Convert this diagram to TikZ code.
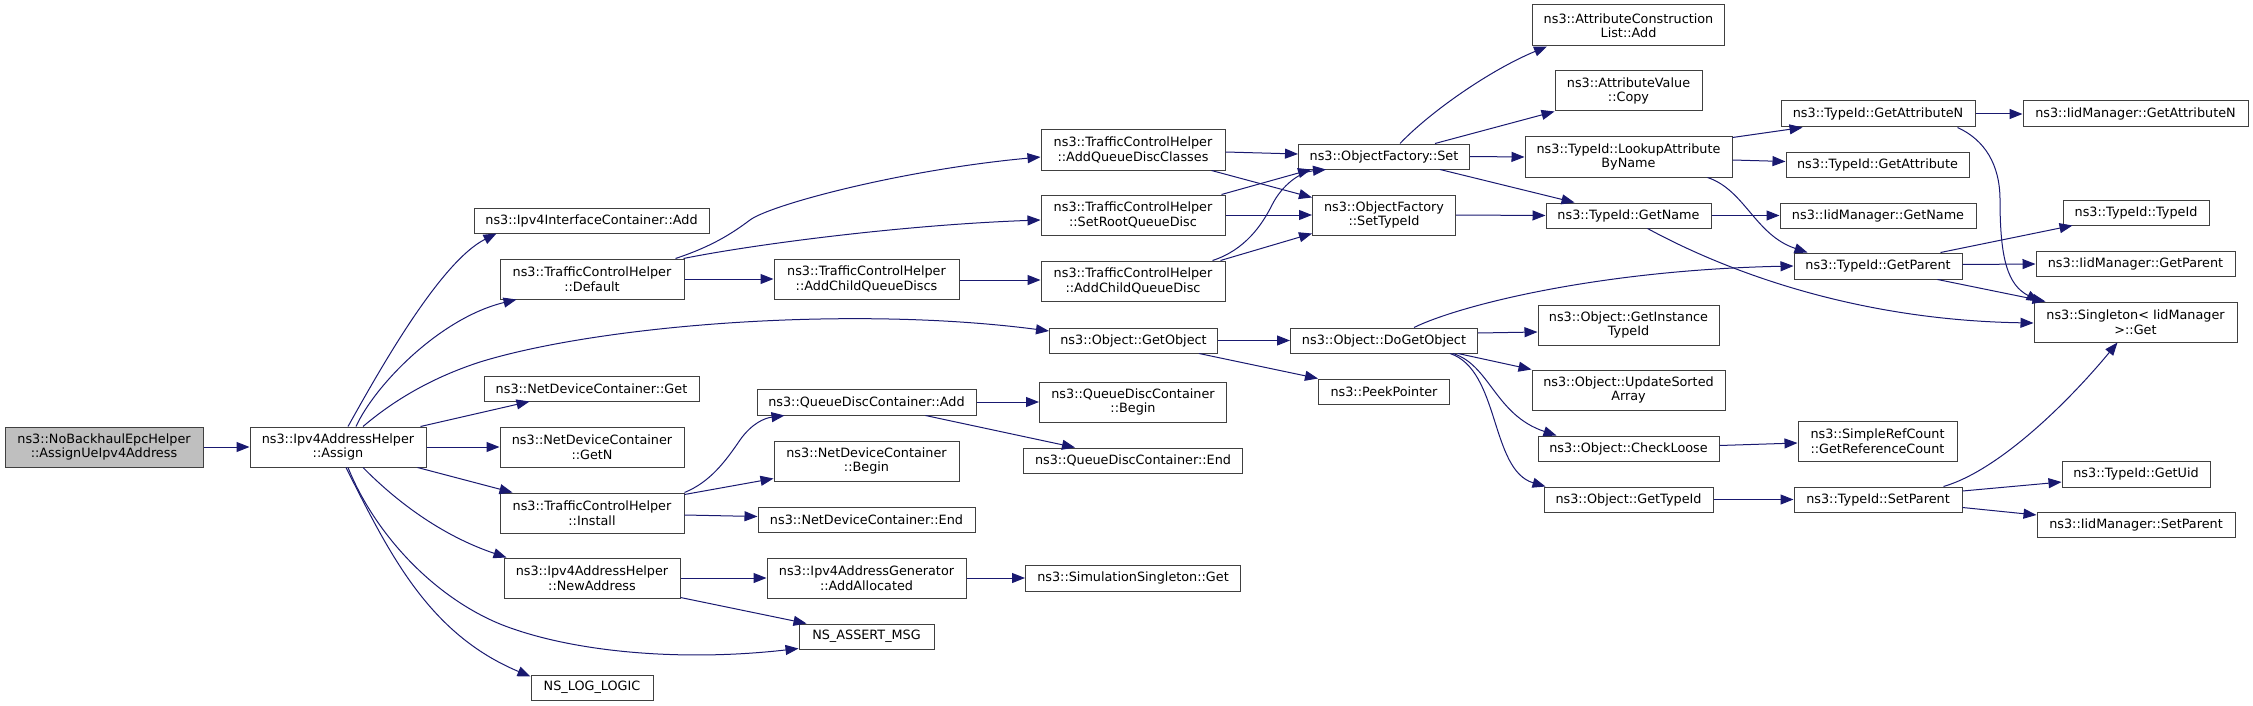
\documentclass[tikz,border=0pt]{standalone}
\usepackage{fontspec}
\setmainfont{DejaVu Sans}
\usetikzlibrary{arrows.meta}
\definecolor{edgec}{RGB}{25,25,112}
\definecolor{bordc}{RGB}{64,64,64}
\definecolor{rootc}{RGB}{191,191,191}
\begin{document}
\begin{tikzpicture}[x=1pt,y=-1pt,
  box/.style={draw=bordc, line width=1pt, fill=white, inner sep=0pt, align=center, font=\fontsize{12.8pt}{14.5pt}\selectfont},
  one/.style={box, minimum height=25pt},
  two/.style={box, minimum height=40pt},
  edge/.style={draw=edgec, line width=1pt, -{Triangle[length=13pt,width=10pt]}}]
\useasboundingbox (0,0) rectangle (2253,706);
% column 1-2
\node[two, minimum width=198pt, fill=rootc] (root) at (104,447) {ns3::NoBackhaulEpcHelper\\::AssignUeIpv4Address};
\node[two, minimum width=176pt] (assign) at (338,447) {ns3::Ipv4AddressHelper\\::Assign};
% column 3
\node[one, minimum width=235pt] (ipv4ica) at (591.5,220.5) {ns3::Ipv4InterfaceContainer::Add};
\node[two, minimum width=184pt] (default) at (592,279) {ns3::TrafficControlHelper\\::Default};
\node[one, minimum width=215pt] (ndcget) at (591.5,388.5) {ns3::NetDeviceContainer::Get};
\node[two, minimum width=184pt] (ndcgetn) at (592,447) {ns3::NetDeviceContainer\\::GetN};
\node[two, minimum width=184pt] (install) at (592,513) {ns3::TrafficControlHelper\\::Install};
\node[two, minimum width=176pt] (newaddr) at (592,578) {ns3::Ipv4AddressHelper\\::NewAddress};
\node[one, minimum width=122pt] (logic) at (592,687.5) {NS\_LOG\_LOGIC};
% column 4
\node[two, minimum width=185pt] (acqds) at (866.5,279) {ns3::TrafficControlHelper\\::AddChildQueueDiscs};
\node[box, minimum width=219pt, minimum height=26pt] (qdcadd) at (866.5,402) {ns3::QueueDiscContainer::Add};
\node[two, minimum width=185pt] (ndcbegin) at (866.5,461) {ns3::NetDeviceContainer\\::Begin};
\node[one, minimum width=217pt] (ndcend) at (866.5,519.5) {ns3::NetDeviceContainer::End};
\node[two, minimum width=199pt] (addalloc) at (866.5,578) {ns3::Ipv4AddressGenerator\\::AddAllocated};
\node[one, minimum width=135pt] (assert) at (866.5,636.5) {NS\_ASSERT\_MSG};
% column 5
\node[two, minimum width=184pt] (aqdc) at (1133,150) {ns3::TrafficControlHelper\\::AddQueueDiscClasses};
\node[two, minimum width=184pt] (srqd) at (1133,215) {ns3::TrafficControlHelper\\::SetRootQueueDisc};
\node[two, minimum width=184pt] (acqd) at (1133,281) {ns3::TrafficControlHelper\\::AddChildQueueDisc};
\node[one, minimum width=168pt] (getobj) at (1133.5,340.5) {ns3::Object::GetObject};
\node[two, minimum width=187pt] (qdcbegin) at (1133,402) {ns3::QueueDiscContainer\\::Begin};
\node[one, minimum width=219pt] (qdcend) at (1133,460.5) {ns3::QueueDiscContainer::End};
\node[box, minimum width=215pt, minimum height=26pt] (simsing) at (1133,578) {ns3::SimulationSingleton::Get};
% column 6
\node[one, minimum width=171pt] (ofset) at (1384,156.5) {ns3::ObjectFactory::Set};
\node[two, minimum width=143pt] (ofsettid) at (1384,215) {ns3::ObjectFactory\\::SetTypeId};
\node[one, minimum width=187pt] (dogetobj) at (1384,340.5) {ns3::Object::DoGetObject};
\node[one, minimum width=131pt] (peek) at (1384,391.5) {ns3::PeekPointer};
% column 7
\node[box, minimum width=192pt, minimum height=41pt] (acladd) at (1628.5,25.5) {ns3::AttributeConstruction\\List::Add};
\node[two, minimum width=147pt] (avcopy) at (1628.5,91) {ns3::AttributeValue\\::Copy};
\node[two, minimum width=207pt] (lookup) at (1628.5,157) {ns3::TypeId::LookupAttribute\\ByName};
\node[one, minimum width=165pt] (tgetname) at (1628.5,215.5) {ns3::TypeId::GetName};
\node[two, minimum width=181pt] (getinst) at (1628.5,325) {ns3::Object::GetInstance\\TypeId};
\node[two, minimum width=193pt] (updsorted) at (1628.5,390) {ns3::Object::UpdateSorted\\Array};
\node[one, minimum width=181pt] (checkloose) at (1628.5,448.5) {ns3::Object::CheckLoose};
\node[one, minimum width=169pt] (gettypeid) at (1628.5,499.5) {ns3::Object::GetTypeId};
% column 8
\node[box, minimum width=194pt, minimum height=26pt] (tgetattrn) at (1878,114) {ns3::TypeId::GetAttributeN};
\node[one, minimum width=183pt] (tgetattr) at (1877.5,164.5) {ns3::TypeId::GetAttribute};
\node[one, minimum width=196pt] (igetname) at (1878,215.5) {ns3::IidManager::GetName};
\node[box, minimum width=168pt, minimum height=26pt] (tgetparent) at (1878,266) {ns3::TypeId::GetParent};
\node[two, minimum width=159pt] (srcgrc) at (1877.5,441) {ns3::SimpleRefCount\\::GetReferenceCount};
\node[one, minimum width=168pt] (tsetparent) at (1878,499.5) {ns3::TypeId::SetParent};
% column 9
\node[box, minimum width=225pt, minimum height=26pt] (igetattrn) at (2135.5,114) {ns3::IidManager::GetAttributeN};
\node[one, minimum width=146pt] (ttypeid) at (2136,212.5) {ns3::TypeId::TypeId};
\node[one, minimum width=199pt] (igetparent) at (2135.5,263.5) {ns3::IidManager::GetParent};
\node[two, minimum width=203pt] (singleton) at (2135.5,322) {ns3::Singleton< IidManager\\ >::Get};
\node[box, minimum width=148pt, minimum height=26pt] (tgetuid) at (2136,474) {ns3::TypeId::GetUid};
\node[one, minimum width=198pt] (isetparent) at (2136,524.5) {ns3::IidManager::SetParent};
% edges
\draw[edge] (root.east) -- (assign.west);
\draw[edge] ([xshift=10pt]assign.north) .. controls (379,371) and (440,262) .. ([xshift=23pt]ipv4ica.south west);
\draw[edge] ([xshift=18pt]assign.north) .. controls (375,385) and (440,318) .. ([xshift=17pt]default.south west);
\draw[edge] ([xshift=25pt]assign.north) .. controls (400,395) and (440,375) .. (480,362) .. controls (600,325) and (850,305) .. ([yshift=9.5pt]getobj.west);
\draw[edge] ([xshift=-6pt]assign.north east) -- ([xshift=46pt]ndcget.south west);
\draw[edge] (assign.east) -- (ndcgetn.west);
\draw[edge] ([xshift=-9pt]assign.south east) -- ([xshift=13pt]install.north west);
\draw[edge] ([xshift=25pt]assign.south) .. controls (395,500) and (440,535) .. ([xshift=3pt]newaddr.north west);
\draw[edge] ([xshift=10pt]assign.south) .. controls (373,530) and (430,595) .. (500,624) .. controls (570,652) and (680,662) .. ([yshift=1pt]assert.south west);
\draw[edge] ([xshift=8pt]assign.south) .. controls (390,555) and (429,634) .. ([yshift=-2pt]logic.north west);
\draw[edge] ([xshift=-9pt]default.north east) .. controls (710,247) and (730,235) .. (750,220) .. controls (770,205) and (900,170) .. ([yshift=-7pt]aqdc.west);
\draw[edge] ([xshift=-1pt]default.north east) .. controls (750,245) and (900,225) .. ([yshift=-5pt]srqd.west);
\draw[edge] (default.east) -- (acqds.west);
\draw[edge] ([yshift=-1pt]acqds.east) -- ([yshift=1pt]acqd.west);
\draw[edge] ([yshift=-2pt]aqdc.east) -- ([yshift=2.5pt]ofset.west);
\draw[edge] ([xshift=-14pt]aqdc.south east) -- ([yshift=-3pt]ofsettid.north west);
\draw[edge] ([xshift=-4pt]srqd.north east) -- ([xshift=13pt]ofset.south west);
\draw[edge] (srqd.east) -- (ofsettid.west);
\draw[edge] ([xshift=-13pt]acqd.north east) .. controls (1245,250) and (1262,225) .. (1272,205) .. controls (1282,185) and (1300,172) .. ([xshift=28pt]ofset.south west);
\draw[edge] ([xshift=-5pt]acqd.north east) -- ([yshift=2pt]ofsettid.south west);
\draw[edge] ([xshift=16pt]ofset.north) .. controls (1430,112) and (1490,70) .. ([xshift=15pt]acladd.south west);
\draw[edge] ([xshift=-35pt]ofset.north east) -- (avcopy.south west);
\draw[edge] (ofset.east) -- (lookup.west);
\draw[edge] ([xshift=-30pt]ofset.south east) -- ([xshift=29pt]tgetname.north west);
\draw[edge] (ofsettid.east) -- (tgetname.west);
\draw[edge] (getobj.east) -- (dogetobj.west);
\draw[edge] ([xshift=-19pt]getobj.south east) -- (peek.north west);
\draw[edge] ([xshift=30pt]dogetobj.north) .. controls (1460,305) and (1600,270) .. (tgetparent.west);
\draw[edge] ([yshift=7.5pt]dogetobj.east) -- ([yshift=-7pt]getinst.west);
\draw[edge] ([xshift=-20pt]dogetobj.south east) -- (updsorted.north west);
\draw[edge] ([xshift=-25pt]dogetobj.south east) .. controls (1490,365) and (1495,415) .. ([xshift=19pt]checkloose.north west);
\draw[edge] ([xshift=-28pt]dogetobj.south east) .. controls (1500,370) and (1490,470) .. ([xshift=2pt]gettypeid.north west);
\draw[edge] ([yshift=3pt]checkloose.east) -- ([yshift=-2pt]srcgrc.west);
\draw[edge] (gettypeid.east) -- (tsetparent.west);
\draw[edge] ([yshift=-1pt]lookup.north east) -- ([xshift=22pt]tgetattrn.south west);
\draw[edge] ([yshift=-3pt]lookup.east) -- ([yshift=3pt]tgetattr.west);
\draw[edge] ([xshift=-25pt]lookup.south east) .. controls (1745,190) and (1755,235) .. ([xshift=14pt]tgetparent.north west);
\draw[edge] (tgetname.east) -- (igetname.west);
\draw[edge] ([xshift=19pt]tgetname.south) .. controls (1720,268) and (1850,320) .. ([yshift=-1pt]singleton.west);
\draw[edge] (tgetattrn.east) -- (igetattrn.west);
\draw[edge] ([xshift=-18pt]tgetattrn.south east) .. controls (1985,140) and (2000,165) .. (2000,200) .. controls (2000,260) and (2008,285) .. ([xshift=6pt]singleton.north west);
\draw[edge] ([xshift=-22pt]tgetparent.north east) -- ([xshift=10pt]ttypeid.south west);
\draw[edge] ([yshift=1.5pt]tgetparent.east) -- ([yshift=-0.5pt]igetparent.west);
\draw[edge] ([xshift=-25pt]tgetparent.south east) -- ([xshift=12pt]singleton.north west);
\draw[edge] ([xshift=-19pt]tsetparent.north east) .. controls (2000,470) and (2070,400) .. ([xshift=84pt]singleton.south west);
\draw[edge] ([yshift=8.5pt]tsetparent.east) -- ([yshift=-8pt]tgetuid.west);
\draw[edge] ([yshift=-8pt]tsetparent.east) -- ([yshift=9.5pt]isetparent.west);
\draw[edge] (install.north east) .. controls (710,482) and (725,462) .. (740,440) .. controls (752,423) and (765,418) .. ([xshift=28pt]qdcadd.south west);
\draw[edge] ([yshift=-2pt]install.north east) -- ([yshift=3pt]ndcbegin.south west);
\draw[edge] ([yshift=-2pt]install.east) -- ([yshift=3pt]ndcend.west);
\draw[edge] (qdcadd.east) -- (qdcbegin.west);
\draw[edge] ([xshift=-51pt]qdcadd.south east) -- ([xshift=52pt]qdcend.north west);
\draw[edge] (newaddr.east) -- (addalloc.west);
\draw[edge] ([yshift=1pt]newaddr.south east) -- ([xshift=8pt]assert.north west);
\draw[edge] (addalloc.east) -- (simsing.west);
\end{tikzpicture}
\end{document}
